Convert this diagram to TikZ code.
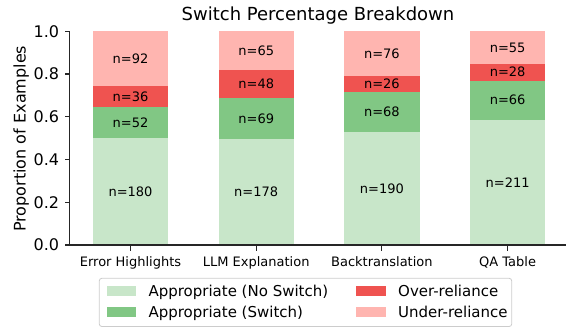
\documentclass[tikz,border=0pt]{standalone}
\usepackage{fontspec}
\usepackage{tikz}
\usepackage{xcolor}
\usetikzlibrary{calc}
\setmainfont{DejaVu Sans}

\definecolor{apNoSw}{HTML}{C8E6C9}
\definecolor{apSw}{HTML}{81C784}
\definecolor{overRel}{HTML}{EF5350}
\definecolor{underRel}{HTML}{FFB5B0}
\definecolor{legEdge}{HTML}{CCCCCC}

\begin{document}
\begin{tikzpicture}[x=1pt,y=1pt]
        \tikzstyle{barlbl}=[inner sep=0pt,font=\fontsize{13}{15}\selectfont]
        \tikzstyle{xtick}=[anchor=base,inner sep=0pt,font=\fontsize{13}{15}\selectfont]
        \tikzstyle{ytick}=[anchor=east,inner sep=0pt,font=\fontsize{16}{18}\selectfont]
        \tikzstyle{legtxt}=[anchor=base west,inner sep=0pt,font=\fontsize{15}{17}\selectfont]
        \tikzstyle{spine}=[line width=1.1pt,black!85]
        \useasboundingbox (0,0) rectangle (566,327);

        % title and axis label
        \node[anchor=base,inner sep=0pt,font=\fontsize{18}{20}\selectfont] (title) at (318,306.3) {Switch Percentage Breakdown};
        \node[anchor=base,rotate=90,inner sep=0pt,font=\fontsize{16}{18}\selectfont] (ylab) at (25.5,188.3) {Proportion of Examples};

        \begin{scope}[yshift=82pt,y=213.7pt]
            % Error Highlights
            \fill[apNoSw] (92.8,0) rectangle (168.2,0.5);
            \fill[apSw] (92.8,0.5) rectangle (168.2,0.6444);
            \fill[overRel] (92.8,0.6444) rectangle (168.2,0.7444);
            \fill[underRel] (92.8,0.7444) rectangle (168.2,1);
            \node[barlbl] (EH1) at (130.5,0.25) {n=180};
            \node[barlbl] (EH2) at (130.5,0.5722) {n=52};
            \node[barlbl] (EH3) at (130.5,0.6944) {n=36};
            \node[barlbl] (EH4) at (130.5,0.8722) {n=92};

            % LLM Explanation
            \fill[apNoSw] (218.5,0) rectangle (293.9,0.4944);
            \fill[apSw] (218.5,0.4944) rectangle (293.9,0.6861);
            \fill[overRel] (218.5,0.6861) rectangle (293.9,0.8194);
            \fill[underRel] (218.5,0.8194) rectangle (293.9,1);
            \node[barlbl] (LE1) at (256.2,0.2472) {n=178};
            \node[barlbl] (LE2) at (256.2,0.5903) {n=69};
            \node[barlbl] (LE3) at (256.2,0.7528) {n=48};
            \node[barlbl] (LE4) at (256.2,0.9097) {n=65};

            % Backtranslation
            \fill[apNoSw] (344.2,0) rectangle (419.6,0.5278);
            \fill[apSw] (344.2,0.5278) rectangle (419.6,0.7167);
            \fill[overRel] (344.2,0.7167) rectangle (419.6,0.7889);
            \fill[underRel] (344.2,0.7889) rectangle (419.6,1);
            \node[barlbl] (BT1) at (381.9,0.2639) {n=190};
            \node[barlbl] (BT2) at (381.9,0.6222) {n=68};
            \node[barlbl] (BT3) at (381.9,0.7528) {n=26};
            \node[barlbl] (BT4) at (381.9,0.8944) {n=76};

            % QA Table
            \fill[apNoSw] (469.9,0) rectangle (545.3,0.5861);
            \fill[apSw] (469.9,0.5861) rectangle (545.3,0.7694);
            \fill[overRel] (469.9,0.7694) rectangle (545.3,0.8472);
            \fill[underRel] (469.9,0.8472) rectangle (545.3,1);
            \node[barlbl] (QA1) at (507.6,0.2931) {n=211};
            \node[barlbl] (QA2) at (507.6,0.6778) {n=66};
            \node[barlbl] (QA3) at (507.6,0.8083) {n=28};
            \node[barlbl] (QA4) at (507.6,0.9236) {n=55};

            % axes
            \coordinate (O) at (69.6,0);
            \coordinate (T) at (69.6,1);
            \coordinate (R) at (566,0);
            \draw[spine] (T) -- (O) -- (R);

            % y ticks
            \draw[spine] (O) -- ++(-5,0);
            \draw[spine] (69.6,0.2) -- ++(-5,0);
            \draw[spine] (69.6,0.4) -- ++(-5,0);
            \draw[spine] (69.6,0.6) -- ++(-5,0);
            \draw[spine] (69.6,0.8) -- ++(-5,0);
            \draw[spine] (T) -- ++(-5,0);
            \node[ytick] (y0) at (59.3,0) {0.0};
            \node[ytick] (y2) at (59.3,0.2) {0.2};
            \node[ytick] (y4) at (59.3,0.4) {0.4};
            \node[ytick] (y6) at (59.3,0.6) {0.6};
            \node[ytick] (y8) at (59.3,0.8) {0.8};
            \node[ytick] (y10) at (59.3,1) {1.0};

            % x ticks
            \draw[spine] (130.5,0) -- ++(0,-6pt);
            \draw[spine] (256.2,0) -- ++(0,-6pt);
            \draw[spine] (381.9,0) -- ++(0,-6pt);
            \draw[spine] (507.6,0) -- ++(0,-6pt);
        \end{scope}

        \node[xtick] (xEH) at (130.5,60) {Error Highlights};
        \node[xtick] (xLE) at (256.2,60) {LLM Explanation};
        \node[xtick] (xBT) at (381.9,60) {Backtranslation};
        \node[xtick] (xQA) at (507.6,60) {QA Table};

        % legend
        \draw[legEdge,line width=0.8pt,rounded corners=2.5pt,fill=white] (99.3,0.5) rectangle (511.7,48.7);
        \fill[apNoSw] (106.7,31) rectangle (136,40.5);
        \fill[apSw] (106.7,9.5) rectangle (136,19.5);
        \fill[overRel] (356,31) rectangle (386,40.5);
        \fill[underRel] (356,9.5) rectangle (386,19.5);
        \node[legtxt] (L1) at (148.3,30.5) {Appropriate (No Switch)};
        \node[legtxt] (L2) at (148.3,9) {Appropriate (Switch)};
        \node[legtxt] (L3) at (398,30.5) {Over-reliance};
        \node[legtxt] (L4) at (398,9) {Under-reliance};
\end{tikzpicture}
\end{document}
